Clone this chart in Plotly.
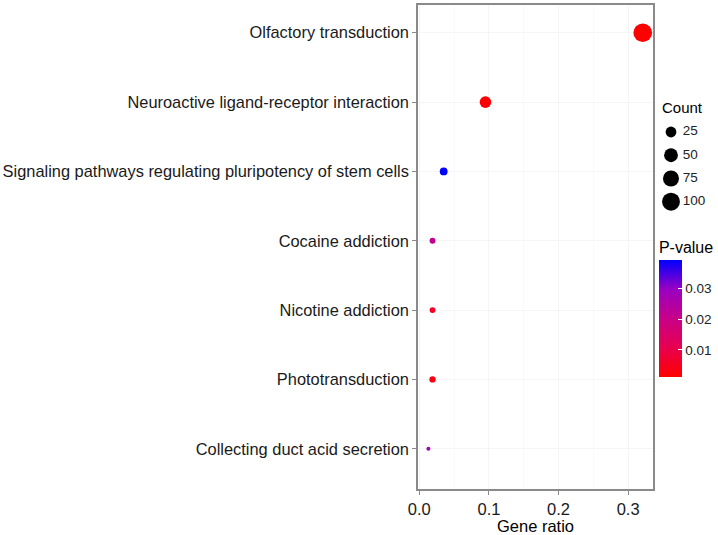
import numpy as np
import plotly.graph_objects as go

# KEGG enrichment values
pathways = [
    'Olfactory transduction',
    'Neuroactive ligand-receptor interaction',
    'Signaling pathways regulating pluripotency of stem cells',
    'Cocaine addiction',
    'Nicotine addiction',
    'Phototransduction',
    'Collecting duct acid secretion',
]
gene_ratio = [0.321, 0.095, 0.035, 0.019, 0.019, 0.019, 0.013]
counts = [125, 37, 13, 7, 7, 8, 5]
p_values = [0.0012, 0.0016, 0.0393, 0.0215, 0.0060, 0.0035, 0.0285]

legend_counts = [25, 50, 75, 100]
legend_labels = ['25', '50', '75', '100']

# ggplot-like area scale: diameter in px
C_MIN, C_MAX = 5, 125
D_MIN, D_MAX = 4.0, 18.7


def size_of(c):
    c = np.asarray(c, dtype=float)
    return D_MIN + (D_MAX - D_MIN) * np.sqrt((c - C_MIN) / (C_MAX - C_MIN))


# red -> blue interpolated in Lab (like scale_colour_gradient)
colorscale = [
    [0.0, '#FF0000'],
    [0.25, '#E7004F'],
    [0.5, '#C80088'],
    [0.75, '#9900C2'],
    [1.0, '#0000FF'],
]

FONT = 'Liberation Sans, Arial, sans-serif'
GREY = '#8a8a8a'

fig = go.Figure()

fig.add_trace(go.Scatter(
    x=gene_ratio,
    y=pathways,
    mode='markers',
    marker=dict(
        size=size_of(counts),
        color=p_values,
        colorscale=colorscale,
        cmin=0.00115,
        cmax=0.0393,
        opacity=1,
        line=dict(width=0),
        showscale=True,
        colorbar=dict(
            title=dict(text='P-value', side='top',
                       font=dict(family=FONT, size=16, color='black')),
            x=0.803, xanchor='left',
            y=0.2314, yanchor='bottom',
            lenmode='pixels', len=139,
            thickness=23,
            outlinewidth=0,
            tickvals=[0.01, 0.02, 0.03],
            ticktext=['0.01', '0.02', '0.03'],
            ticks='inside', ticklen=4, tickcolor='white',
            tickfont=dict(family=FONT, size=13.5, color='#222222'),
            xpad=0, ypad=0,
        ),
    ),
    showlegend=False,
    hoverinfo='skip',
))

# size legend keys, drawn on their own small axes
fig.add_trace(go.Scatter(
    x=[0.254] * len(legend_counts),
    y=legend_labels,
    mode='markers',
    marker=dict(size=size_of(legend_counts) + 0.8, color='#000000', opacity=1,
                line=dict(width=0)),
    xaxis='x2', yaxis='y2',
    showlegend=False, hoverinfo='skip',
))
fig.add_trace(go.Scatter(
    x=[0.44] * len(legend_counts),
    y=legend_labels,
    mode='text',
    text=legend_labels,
    textposition='middle right',
    textfont=dict(family=FONT, size=13.5, color='#222222'),
    xaxis='x2', yaxis='y2',
    showlegend=False, hoverinfo='skip',
))

fig.update_layout(
    width=718,
    height=535,
    margin=dict(l=418, r=0, t=5, b=46),
    paper_bgcolor='white',
    plot_bgcolor='white',
    font=dict(family=FONT, color='#1a1a1a'),
    xaxis=dict(
        domain=[0, 0.7833],
        range=[-0.0019, 0.3357],
        tickvals=[0.0, 0.1, 0.2, 0.3],
        ticktext=['0.0', '0.1', '0.2', '0.3'],
        ticks='outside', ticklen=4, tickcolor=GREY, tickwidth=1.2,
        tickfont=dict(family=FONT, size=16.5, color='#1a1a1a'),
        showgrid=True, gridcolor='#f5f5f5', gridwidth=1,
        minor=dict(dtick=0.05, showgrid=True, gridcolor='#f9f9f9'),
        zeroline=False,
        showline=True, linecolor=GREY, linewidth=1.5, mirror=True,
        title=dict(text='Gene ratio', font=dict(family=FONT, size=16.5, color='black'), standoff=4),
    ),
    yaxis=dict(
        type='category',
        categoryorder='array',
        categoryarray=pathways,
        range=[6.58, -0.40],
        ticks='outside', ticklen=4, tickcolor=GREY, tickwidth=1.2,
        tickfont=dict(family=FONT, size=16.4, color='#1a1a1a'),
        showgrid=True, gridcolor='#f5f5f5',
        zeroline=False,
        showline=True, linecolor=GREY, linewidth=1.5, mirror=True,
    ),
    xaxis2=dict(
        domain=[0.79, 1.0], range=[0, 1], anchor='y2',
        visible=False, fixedrange=True,
    ),
    yaxis2=dict(
        domain=[0.5696, 0.7616], range=[3.5, -0.5], anchor='x2',
        type='category', categoryorder='array', categoryarray=legend_labels,
        visible=False, fixedrange=True,
    ),
    annotations=[
        dict(text='Count', xref='paper', yref='paper', x=0.807, y=0.789,
             xanchor='left', yanchor='middle', showarrow=False,
             font=dict(family=FONT, size=15, color='black')),
    ],
)

# drop the default page margin so the figure sits at the window's corner
fig.write_html('out.html', config={'displayModeBar': False},
               post_script="document.body.style.margin='0px';")
